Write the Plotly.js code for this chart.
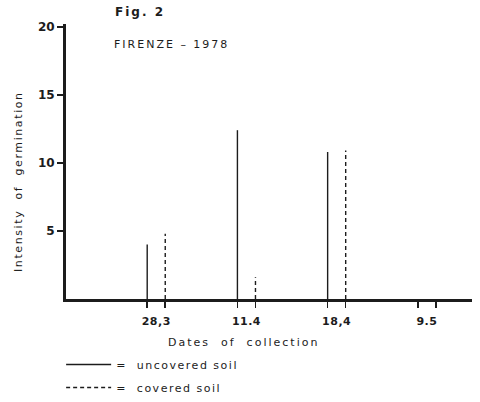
<!DOCTYPE html>
<html>
<head>
<meta charset="utf-8">
<script src="https://cdn.plot.ly/plotly-3.0.1.min.js"></script>
<style>
html,body{margin:0;padding:0;background:#fff;}
#chart{width:480px;height:402px;}
text.annotation-text{letter-spacing:2px;}
g.annotation[data-index="2"] text.annotation-text{letter-spacing:1.6px;}
text.legendtext{letter-spacing:1.5px;}
.xtick text{letter-spacing:0.5px;}
</style>
</head>
<body>
<div id="chart"></div>
<script>
// Data
var dates = ["28,3", "11.4", "18,4", "9.5"];
var uncovered = [4.0, 12.4, 10.8, 0];
var covered = [4.8, 1.6, 10.9, 0];
var seriesNames = ["=  uncovered soil", "=  covered soil"];
var yTicks = [5, 10, 15, 20];

var ink = "#1c1c1c";
var off = 0.1;

function stems(vals, shift) {
  var xs = [], ys = [];
  vals.forEach(function (v, i) {
    xs.push(i + shift, i + shift, null);
    ys.push(0, v, null);
  });
  return {x: xs, y: ys};
}
var su = stems(uncovered, -off);
var sc = stems(covered, off);

var minorPos = [];
dates.forEach(function (d, i) { minorPos.push(i - off, i + off); });

var traces = [
  {x: su.x, y: su.y, type: "scatter", mode: "lines", name: seriesNames[0],
   legendgroup: "a", line: {color: ink, width: 1.4}, hoverinfo: "skip"},
  {x: sc.x, y: sc.y, type: "scatter", mode: "lines", name: seriesNames[1],
   legendgroup: "b", line: {color: ink, width: 1.4, dash: "4px,3px"}, hoverinfo: "skip"}
];

var layout = {
  width: 480, height: 402,
  paper_bgcolor: "#ffffff", plot_bgcolor: "#ffffff",
  margin: {l: 66, r: 8, t: 24, b: 103},
  font: {family: "DejaVu Sans, sans-serif", color: ink, size: 11},
  showlegend: true,
  legend: {x: -0.012, y: 0, xanchor: "left", yanchor: "bottom", yref: "container",
           bgcolor: "rgba(0,0,0,0)", font: {size: 11, family: "DejaVu Sans"},
           tracegroupgap: 4, itemwidth: 45},
  xaxis: {
    range: [-1.0, 3.5], showgrid: false, zeroline: false,
    showline: true, linewidth: 3, linecolor: ink,
    tickmode: "array", tickvals: dates.map(function (d, i) { return i; }),
    ticktext: dates, ticks: "outside", ticklen: 6, tickcolor: "rgba(0,0,0,0)",
    ticklabelstandoff: 4,
    tickfont: {family: "DejaVu Sans", size: 11, color: ink, weight: "bold"},
    minor: {tickmode: "array", tickvals: minorPos, ticks: "outside", ticklen: 6,
            tickwidth: 1.5, tickcolor: ink, showgrid: false}
  },
  yaxis: {
    range: [0, 20.2], showgrid: false, zeroline: false,
    showline: true, linewidth: 3, linecolor: ink,
    tickmode: "array", tickvals: yTicks, ticks: "outside", ticklen: 6,
    tickwidth: 2, tickcolor: ink,
    tickfont: {family: "DejaVu Sans", size: 12, color: ink, weight: "bold"}
  },
  annotations: [
    {text: "Fig. 2", xref: "paper", yref: "paper", x: 0.182, y: 1.044,
     xanchor: "center", yanchor: "middle",
     showarrow: false, font: {family: "DejaVu Sans", size: 12, weight: "bold", color: ink}},
    {text: "FIRENZE – 1978", xref: "paper", yref: "paper", x: 0.261, y: 0.924,
     xanchor: "center", yanchor: "middle",
     showarrow: false, font: {family: "DejaVu Sans", size: 11, color: ink}},
    {text: "Intensity  of  germination", xref: "paper", yref: "paper", x: -0.118, y: 0.425,
     xanchor: "center", yanchor: "middle",
     textangle: -90, showarrow: false, font: {family: "DejaVu Sans", size: 11, color: ink}},
    {text: "Dates  of  collection", xref: "paper", yref: "paper", x: 0.436, y: -0.158,
     xanchor: "center", yanchor: "middle",
     showarrow: false, font: {family: "DejaVu Sans", size: 11, color: ink}}
  ]
};

Plotly.newPlot("chart", traces, layout, {displayModeBar: false, staticPlot: true});
</script>
</body>
</html>
